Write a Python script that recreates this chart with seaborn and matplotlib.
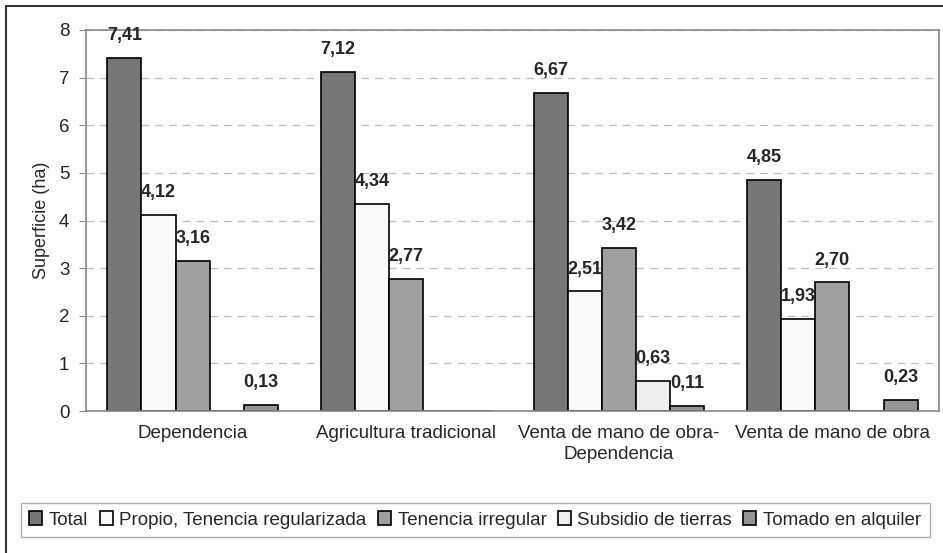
import numpy as np
import pandas as pd
import seaborn as sns
from matplotlib import pyplot as plt
from matplotlib.patches import Rectangle, Patch

categories = ["Dependencia", "Agricultura tradicional",
              "Venta de mano de obra-\nDependencia", "Venta de mano de obra"]
series = ["Total", "Propio, Tenencia regularizada", "Tenencia irregular",
          "Subsidio de tierras", "Tomado en alquiler"]
total = [7.41, 7.12, 6.67, 4.85]
propio = [4.12, 4.34, 2.51, 1.93]
irregular = [3.16, 2.77, 3.42, 2.70]
subsidio = [0.0, 0.0, 0.63, 0.0]
alquiler = [0.13, 0.0, 0.11, 0.23]
colores = ["#777777", "#f9f9f9", "#a0a0a0", "#eeeeee", "#959595"]

valores = [total, propio, irregular, subsidio, alquiler]
df = pd.DataFrame([
    {"grupo": c, "serie": s, "ha": v[i]}
    for s, v in zip(series, valores)
    for i, c in enumerate(categories)
])

sns.set_style("white")
plt.rcParams["font.family"] = ["Liberation Sans", "DejaVu Sans"]

fig = plt.figure(figsize=(9.43, 5.53), dpi=100)
ax = fig.add_axes([86 / 943, 1 - 411 / 553, (939 - 86) / 943, (411 - 30) / 553])

sns.barplot(data=df, x="grupo", y="ha", hue="serie", palette=colores,
            hue_order=series, order=categories, ax=ax, width=0.8,
            edgecolor="black", linewidth=1.2, legend=False)

ax.set_ylim(0, 8)
ax.set_xlim(-0.5, len(categories) - 0.5)
ax.set_yticks(range(0, 9))
ax.yaxis.grid(True, linestyle=(0, (6, 5)), color="#bbbbbb", linewidth=0.9)
ax.set_axisbelow(True)
for sp in ax.spines.values():
    sp.set_color("#888888")
    sp.set_linewidth(1.2)

ax.set_xticks(np.arange(len(categories)))
ax.set_xticklabels(categories, fontsize=13.5, linespacing=1.35)
ax.set_xticks(np.arange(-0.5, len(categories)), minor=True)
ax.tick_params(axis="x", which="major", length=0, pad=10)
ax.tick_params(axis="x", which="minor", length=5, color="#888888")
ax.tick_params(axis="y", length=5, color="#888888", labelsize=13.5, left=True, pad=7)
ax.set_xlabel("")
ax.set_ylabel("Superficie (ha)", fontsize=13, labelpad=6)

for cont in ax.containers:
    labels = ["" if b.get_height() == 0 else f"{b.get_height():.2f}".replace(".", ",")
              for b in cont]
    ax.bar_label(cont, labels=labels, padding=10, fontsize=13, fontweight="bold")

handles = [Patch(facecolor=c, edgecolor="black", linewidth=1.2) for c in colores]
leg = fig.legend(handles, series, loc="center", bbox_to_anchor=(0.504, 0.0597),
                 ncol=5, fontsize=13.5, frameon=True, fancybox=False,
                 handlelength=0.7, handleheight=0.7, handletextpad=0.35,
                 columnspacing=0.6, borderpad=0.45, borderaxespad=0)
leg.get_frame().set_edgecolor("#999999")
leg.get_frame().set_linewidth(1.0)

# marco exterior del grafico
fig.patches.append(Rectangle((6 / 943, -0.1), 1.2, 1 - 6 / 553 + 0.1,
                             transform=fig.transFigure, fill=False,
                             edgecolor="#333333", linewidth=1.5))

fig.savefig("out.png", dpi=100)
